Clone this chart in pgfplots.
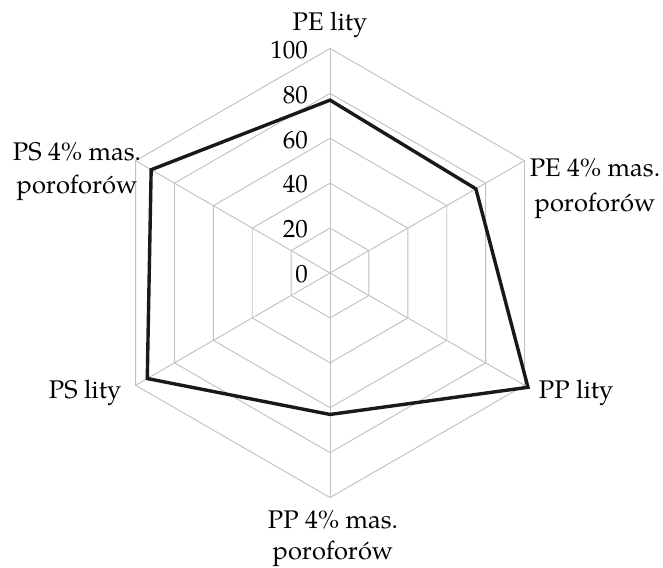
\documentclass[border=0pt]{standalone}
\usepackage{fontspec}
\setmainfont{TeX Gyre Pagella}
\usepackage{pgfplots}
\pgfplotsset{compat=1.18}
\definecolor{gridgray}{RGB}{191,191,191}
\tikzset{lbl/.style={font=\fontsize{25.5}{30}\selectfont, inner sep=0pt},
         tck/.style={font=\fontsize{25}{30}\selectfont, inner sep=0pt}}
\begin{document}
\begin{tikzpicture}
\begin{axis}[
  x=2.245pt, y=2.245pt,
  xmin=-147, xmax=148.3, ymin=-131, ymax=121.6,
  hide axis, clip=false,
]
% hexagonal grid rings (polar: angle, radius)
\foreach \r in {20,40,60,80,100}{
  \edef\tmp{\noexpand\addplot[gridgray, line width=0.9pt, data cs=polar, mark=none]
    coordinates {(90,\r) (30,\r) (-30,\r) (-90,\r) (-150,\r) (150,\r)} -- cycle;}
  \tmp
}
% spokes
\addplot[gridgray, line width=0.9pt, data cs=polar, mark=none] coordinates {(90,0) (90,100)};
\addplot[gridgray, line width=0.9pt, data cs=polar, mark=none] coordinates {(30,0) (30,100)};
\addplot[gridgray, line width=0.9pt, data cs=polar, mark=none] coordinates {(-30,0) (-30,100)};
\addplot[gridgray, line width=0.9pt, data cs=polar, mark=none] coordinates {(-90,0) (-90,100)};
\addplot[gridgray, line width=0.9pt, data cs=polar, mark=none] coordinates {(-150,0) (-150,100)};
\addplot[gridgray, line width=0.9pt, data cs=polar, mark=none] coordinates {(150,0) (150,100)};
% data series: PE lity, PE 4%, PP lity, PP 4%, PS lity, PS 4%
\addplot[black!90, line width=3.4pt, line join=miter, data cs=polar, mark=none]
  coordinates {(90,77) (30,75) (-30,101.8) (-90,63) (-150,94) (150,92)} -- cycle;
% radial tick labels
\foreach \r in {0,20,40,60,80,100}{
  \edef\tmp{\noexpand\node[tck, anchor=east] at (axis cs:-9.8,\r-0.6) {\r};}
  \tmp
}
% category labels
\node[lbl, anchor=base] at (axis cs:0,107.8) {PE lity};
\node[lbl, anchor=base] at (axis cs:118,43.2) {PE 4\% mas.};
\node[lbl, anchor=base] at (axis cs:118,27.6) {poroforów};
\node[lbl, anchor=base] at (axis cs:109.6,-56.1) {PP lity};
\node[lbl, anchor=base] at (axis cs:1.3,-113.6) {PP 4\% mas.};
\node[lbl, anchor=base] at (axis cs:1.3,-127.6) {poroforów};
\node[lbl, anchor=base] at (axis cs:-109.1,-56.1) {PS lity};
\node[lbl, anchor=base] at (axis cs:-112.7,50.3) {PS 4\% mas.};
\node[lbl, anchor=base] at (axis cs:-112.7,35.2) {poroforów};
\coordinate (bbl) at (axis cs:-147,-131);
\coordinate (btr) at (axis cs:148.3,121.6);
\end{axis}
\pgfresetboundingbox
\path (bbl) rectangle (btr);
\end{tikzpicture}
\end{document}
